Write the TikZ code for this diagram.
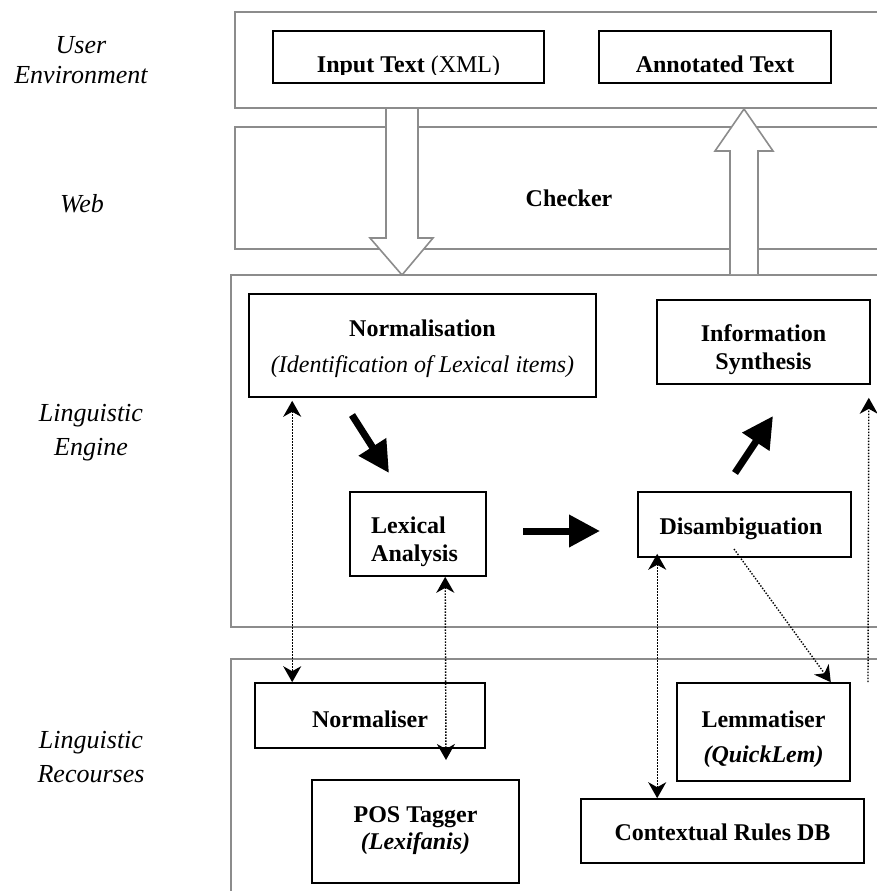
\documentclass[tikz,border=0pt]{standalone}
\usepackage{fontspec}
\setmainfont{Liberation Serif}
\usetikzlibrary{arrows.meta}
\begin{document}
\begin{tikzpicture}[x=1pt,y=-1pt,
  layer/.style={draw=black!45, line width=1.6pt},
  box/.style={draw=black, line width=1.6pt, inner sep=0pt},
  bt/.style={font=\bfseries\fontsize{24}{29}\selectfont, inner sep=0pt, anchor=base},
  lab/.style={font=\itshape\fontsize{26}{30}\selectfont, anchor=base, inner sep=0pt},
  hollow/.style={draw=black!45, line width=1.6pt, fill=white, line join=miter},
  bigarrow/.style={line width=7pt, -{Triangle[length=31pt,width=31pt]}},
  dots/.style={line width=1.4pt, dash pattern=on 1.4pt off 1.6pt},
  >={Stealth[length=16pt,width=18pt,inset=5pt]}
]
\useasboundingbox (0,0) rectangle (877,891);
\clip (0,0) rectangle (877,891);

% layers
\draw[layer] (235,12) rectangle (900,108);
\draw[layer] (235,127) rectangle (900,249);
\draw[layer] (231,275) rectangle (900,627);
\draw[layer] (231,659) rectangle (900,920);

% layer labels
\node[lab] (l1a) at (81,53) {User};
\node[lab] (l1b) at (81,83) {Environment};
\node[lab] (l2) at (82,212) {Web};
\node[lab] (l3a) at (91,421) {Linguistic};
\node[lab] (l3b) at (91,455) {Engine};
\node[lab] (l4a) at (91,748) {Linguistic};
\node[lab] (l4b) at (91,782) {Recourses};

% hollow arrows
\draw[hollow] (386,109) -- (386,238) -- (370,238) -- (402,275) -- (433,238) -- (418,238) -- (418,109);
\draw[hollow] (730,274) -- (730,151) -- (715,151) -- (744,109) -- (773,151) -- (758,151) -- (758,274);

% user environment
\node[box, minimum width=271, minimum height=52] (input) at (408.5,57) {};
\node[box, minimum width=232, minimum height=52] (annot) at (715,57) {};
\begin{scope}
  \clip (274,32) rectangle (830,74.5);
  \node[bt] (inputtxt) at (408.5,72.5) {Input Text \mdseries(XML)};
  \node[bt] (annottxt) at (715,72.5) {Annotated Text};
\end{scope}

% web
\node[bt] (checker) at (569,206) {Checker};

% engine
\node[box, minimum width=347, minimum height=103] (norm) at (422.5,345.5) {};
\node[bt] (normt1) at (422.5,336) {Normalisation};
\node[bt, font=\itshape\fontsize{24}{29}\selectfont] (normt2) at (422.5,372) {(Identification of Lexical items)};

\node[box, minimum width=213, minimum height=84] (info) at (763.5,342) {};
\node[bt] (infot1) at (763.5,341) {Information};
\node[bt] (infot2) at (763.5,369) {Synthesis};

\node[box, minimum width=136, minimum height=84] (lex) at (418,534) {};
\node[bt, anchor=base west] (lext1) at (371,533) {Lexical};
\node[bt, anchor=base west] (lext2) at (371,561) {Analysis};

\node[box, minimum width=213, minimum height=65] (dis) at (744.5,524.5) {};
\node[bt] (dist) at (741,534) {Disambiguation};

% resources
\node[box, minimum width=230, minimum height=65] (normr) at (370,715.5) {};
\node[bt] (normrt) at (370,727) {Normaliser};

\node[box, minimum width=207, minimum height=103] (pos) at (415.5,831.5) {};
\node[bt] (post1) at (415.5,822) {POS Tagger};
\node[bt, font=\bfseries\itshape\fontsize{24}{29}\selectfont] (post2) at (415.5,849) {(Lexifanis)};

\node[box, minimum width=173, minimum height=98] (lem) at (763.5,732) {};
\node[bt] (lemt1) at (763.5,727) {Lemmatiser};
\node[bt, font=\bfseries\itshape\fontsize{24}{29}\selectfont] (lemt2) at (763.5,762) {(QuickLem)};

\node[box, minimum width=283, minimum height=64] (ctx) at (722.5,831) {};
\node[bt] (ctxt) at (722.5,840) {Contextual Rules DB};

% big black arrows
\coordinate (a1s) at (352,415);
\coordinate (a1e) at (389,473);
\coordinate (a2s) at (523,531);
\coordinate (a2e) at (600,531);
\coordinate (a3s) at (735,473);
\coordinate (a3e) at (773,416);
\draw[bigarrow] (a1s) -- (a1e);
\draw[bigarrow] (a2s) -- (a2e);
\draw[bigarrow] (a3s) -- (a3e);

% dotted connectors
\coordinate (d2e) at (446,760);
\coordinate (d4s) at (734,549);
\coordinate (d5s) at (868,682);
\draw[dots,<->] ([xshift=44pt,yshift=-3pt]norm.south west) -- ([xshift=38pt]normr.north west);
\draw[dots,<->] ([xshift=96pt]lex.south west) -- (d2e);
\draw[dots,<->] ([xshift=20pt,yshift=4pt]dis.south west) -- ([xshift=77pt]ctx.north west);
\draw[dots,->] (d4s) -- ([xshift=-20pt]lem.north east);
\draw[dots,->] (d5s) -- ([xshift=-2pt,yshift=-13pt]info.south east);
\end{tikzpicture}
\end{document}
